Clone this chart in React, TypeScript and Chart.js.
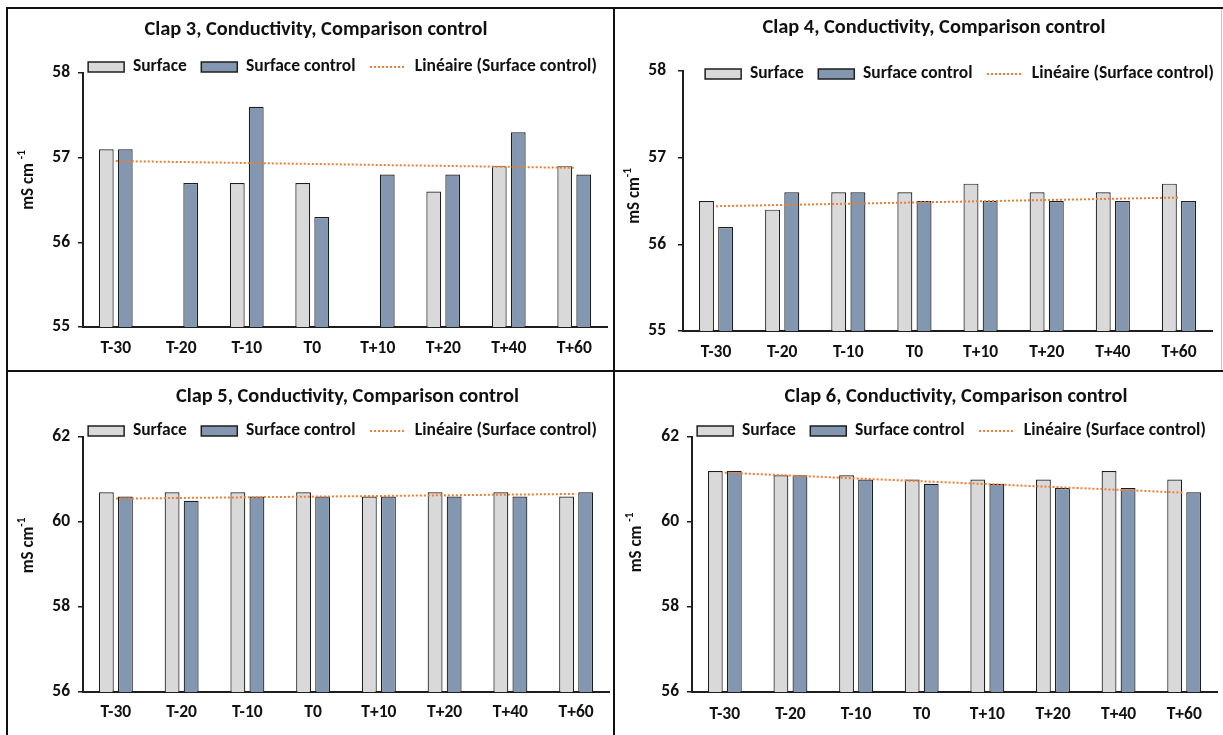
import React, { useEffect, useRef } from 'react';
import { Chart, registerables } from 'chart.js';
Chart.register(...registerables);

const categories = ['T-30', 'T-20', 'T-10', 'T0', 'T+10', 'T+20', 'T+40', 'T+60'];

const clap3Surface = [57.1, null, 56.7, 56.7, null, 56.6, 56.9, 56.9];
const clap3Control = [57.1, 56.7, 57.6, 56.3, 56.8, 56.8, 57.3, 56.8];
const clap3TrendEnds = [56.96, 56.88];

const clap4Surface = [56.5, 56.4, 56.6, 56.6, 56.7, 56.6, 56.6, 56.7];
const clap4Control = [56.2, 56.6, 56.6, 56.5, 56.5, 56.5, 56.5, 56.5];
const clap4TrendEnds = [56.44, 56.54];

const clap5Surface = [60.7, 60.7, 60.7, 60.7, 60.6, 60.7, 60.7, 60.6];
const clap5Control = [60.6, 60.5, 60.6, 60.6, 60.6, 60.6, 60.6, 60.7];
const clap5TrendEnds = [60.55, 60.66];

const clap6Surface = [61.2, 61.1, 61.1, 61.0, 61.0, 61.0, 61.2, 61.0];
const clap6Control = [61.2, 61.1, 61.0, 60.9, 60.9, 60.8, 60.8, 60.7];
const clap6TrendEnds = [61.16, 60.69];

const seriesNames = ['Surface', 'Surface control', 'Linéaire (Surface control)'];
const yRange34 = [55, 58, 1];
const yRange56 = [56, 62, 2];

const FAMILY = 'Carlito, Lato, sans-serif';
const TEXT = '#111111';
const EDGE = '#1e1e1e';

const panels = [
  { title: 'Clap 3, Conductivity, Comparison control', surface: clap3Surface, control: clap3Control, trend: clap3TrendEnds, range: yRange34,
    box: { x: 9, y: 10, w: 604, h: 360 }, titleCx: 307, titleCy: 20, legendCx: 333.5, legendCy: 57,
    top: 63, bottom: 317, left: 74, right: 598, xLabelCy: 339, yTickPad: 8, yTitle: { x: 20, dy: -20, main: 'mS cm ', sup: '-1' } },
  { title: 'Clap 4, Conductivity, Comparison control', surface: clap4Surface, control: clap4Control, trend: clap4TrendEnds, range: yRange34,
    box: { x: 616, y: 10, w: 604, h: 360 }, titleCx: 318, titleCy: 18, legendCx: 343.5, legendCy: 64,
    top: 61, bottom: 321, left: 67, right: 596, xLabelCy: 343, yTickPad: 12, yTitle: { x: 19, dy: -5, main: 'mS cm', sup: '-1' } },
  { title: 'Clap 5, Conductivity, Comparison control', surface: clap5Surface, control: clap5Control, trend: clap5TrendEnds, range: yRange56,
    box: { x: 9, y: 373, w: 604, h: 362 }, titleCx: 338.5, titleCy: 24, legendCx: 333.5, legendCy: 58,
    top: 64, bottom: 319, left: 74, right: 600, xLabelCy: 340, yTickPad: 8, yTitle: { x: 20, dy: -19, main: 'mS cm', sup: '-1' } },
  { title: 'Clap 6, Conductivity, Comparison control', surface: clap6Surface, control: clap6Control, trend: clap6TrendEnds, range: yRange56,
    box: { x: 616, y: 373, w: 605, h: 362 }, titleCx: 340, titleCy: 24, legendCx: 335.5, legendCy: 58,
    top: 64, bottom: 319, left: 76, right: 601, xLabelCy: 342, yTickPad: 8, yTitle: { x: 21, dy: -22, main: 'mS cm ', sup: '-1' } },
];

const TITLE_SIZE = 20.4;
const LEGEND_SIZE = 17.5;
const TICK_SIZE = 17.5;
const YTITLE_SIZE = 17;
const LEGEND_PAD = 14.5;

const placePlugin = {
  id: 'place',
  afterLayout(chart: any, _args: any, opts: any) {
    const t = chart.titleBlock;
    if (t) { const w = t.right - t.left; t.left = opts.titleCx - w / 2; t.right = t.left + w; }
    const l = chart.legend;
    if (l) {
      const w = l.right - l.left;
      l.left = opts.legendCx - w / 2; l.right = l.left + w;
      l.top = opts.legendCy - LEGEND_PAD - LEGEND_SIZE / 2;
      l.height = 2 * LEGEND_PAD + LEGEND_SIZE;
      l.bottom = l.top + l.height;
    }
  },
};

const yTitlePlugin = {
  id: 'yTitleSup',
  afterDraw(chart: any, _args: any, opts: any) {
    const { ctx, chartArea } = chart;
    const cy = (chartArea.top + chartArea.bottom) / 2 + opts.dy;
    ctx.save();
    ctx.translate(opts.x, cy);
    ctx.rotate(-Math.PI / 2);
    ctx.fillStyle = TEXT;
    ctx.textBaseline = 'middle';
    ctx.textAlign = 'left';
    const mainFont = `bold ${YTITLE_SIZE}px ${FAMILY}`;
    const supFont = `bold ${Math.round(YTITLE_SIZE * 0.65)}px ${FAMILY}`;
    ctx.font = mainFont;
    const w1 = ctx.measureText(opts.main).width;
    ctx.font = supFont;
    const w2 = ctx.measureText(opts.sup).width;
    const x0 = -(w1 + w2) / 2;
    ctx.font = mainFont;
    ctx.fillText(opts.main, x0, 0);
    ctx.font = supFont;
    ctx.fillText(opts.sup, x0 + w1, -YTITLE_SIZE * 0.38);
    ctx.restore();
  },
};

function Panel({ p }: { p: any }) {
  const ref = useRef<HTMLCanvasElement>(null);
  useEffect(() => {
    const L = 30;
    const R = p.box.w - p.right;
    const titleLH = TITLE_SIZE * 1.2;
    const titlePadTop = p.titleCy - titleLH / 2;
    const titleBottom = titlePadTop + titleLH;
    const legendH = Math.max(2, p.top - titleBottom);
    const tickLH = TICK_SIZE * 1.2;
    const xPad = p.xLabelCy - p.bottom - tickLH / 2;
    const trendData = categories.map((_, i) => (i === 0 ? p.trend[0] : i === categories.length - 1 ? p.trend[1] : null));
    const chart = new Chart(ref.current as HTMLCanvasElement, {
      type: 'bar',
      data: {
        labels: categories,
        datasets: [
          { label: seriesNames[0], data: p.surface, backgroundColor: '#D9D9D9', borderColor: EDGE, borderWidth: 1.2, order: 1 },
          { label: seriesNames[1], data: p.control, backgroundColor: '#8497B0', borderColor: EDGE, borderWidth: 1.2, order: 1 },
          { type: 'line', label: seriesNames[2], data: trendData, borderColor: '#ED7D31', borderWidth: 2, borderDash: [2, 2],
            pointRadius: 0, spanGaps: true, fill: false, order: 0 } as any,
        ],
      },
      options: {
        responsive: false,
        animation: false,
        layout: { padding: { left: L, right: R, top: 0, bottom: 0 } },
        datasets: { bar: { categoryPercentage: 0.58, barPercentage: 0.78 } } as any,
        scales: {
          x: {
            grid: { display: false, drawTicks: false },
            border: { display: true, color: EDGE, width: 2 },
            ticks: { font: { family: FAMILY, size: TICK_SIZE, weight: 'bold' }, color: TEXT, padding: xPad, maxRotation: 0 },
            afterFit: (s: any) => { s.height = p.box.h - p.bottom; },
          },
          y: {
            min: p.range[0], max: p.range[1],
            ticks: { stepSize: p.range[2], font: { family: FAMILY, size: TICK_SIZE, weight: 'bold' }, color: TEXT, padding: p.yTickPad },
            grid: { drawOnChartArea: false, drawTicks: true, tickLength: 5, color: EDGE, lineWidth: 1.5 },
            border: { display: true, color: EDGE, width: 2 },
            afterFit: (s: any) => { s.width = p.left - L; },
          },
        },
        plugins: {
          title: { display: true, text: p.title, color: TEXT, font: { family: FAMILY, size: TITLE_SIZE, weight: 'bold' },
            padding: { top: titlePadTop, bottom: 0 } },
          legend: {
            display: true, maxHeight: legendH,
            labels: {
              usePointStyle: true, pointStyleWidth: 36, boxHeight: 10, padding: LEGEND_PAD, color: TEXT,
              font: { family: FAMILY, size: LEGEND_SIZE, weight: 'bold' },
              generateLabels: (c: any) => c.data.datasets.map((ds: any, i: number) => ({
                text: ds.label, datasetIndex: i, hidden: false, fontColor: TEXT,
                fillStyle: i < 2 ? ds.backgroundColor : 'rgba(0,0,0,0)', strokeStyle: ds.borderColor,
                lineWidth: i < 2 ? 1.5 : 2, lineDash: i < 2 ? [] : [2, 2], pointStyle: i < 2 ? 'rect' : 'line',
              })),
            },
          },
          tooltip: { enabled: false },
          place: { titleCx: p.titleCx, legendCx: p.legendCx, legendCy: p.legendCy },
          yTitleSup: p.yTitle,
        } as any,
      },
      plugins: [placePlugin, yTitlePlugin],
    });
    return () => chart.destroy();
  }, []);
  return (
    <div style={{ position: 'absolute', left: p.box.x, top: p.box.y, width: p.box.w, height: p.box.h }}>
      <canvas ref={ref} width={p.box.w} height={p.box.h} style={{ width: p.box.w, height: p.box.h, display: 'block' }} />
    </div>
  );
}

export default function App() {
  return (
    <div style={{ position: 'fixed', left: 0, top: 0, width: 1223, height: 735, background: '#fff', overflow: 'hidden' }}>
      {panels.map((p) => <Panel key={p.title} p={p} />)}
      <div style={{ position: 'absolute', left: 6, top: 7, width: 1217, height: 2, background: '#111' }} />
      <div style={{ position: 'absolute', left: 6, top: 7, width: 2, height: 728, background: '#111' }} />
      <div style={{ position: 'absolute', left: 613, top: 7, width: 2, height: 728, background: '#111' }} />
      <div style={{ position: 'absolute', left: 6, top: 370, width: 1217, height: 2, background: '#111' }} />
      <div style={{ position: 'absolute', left: 1221, top: 9, width: 1, height: 361, background: '#c8c8c8' }} />
    </div>
  );
}
